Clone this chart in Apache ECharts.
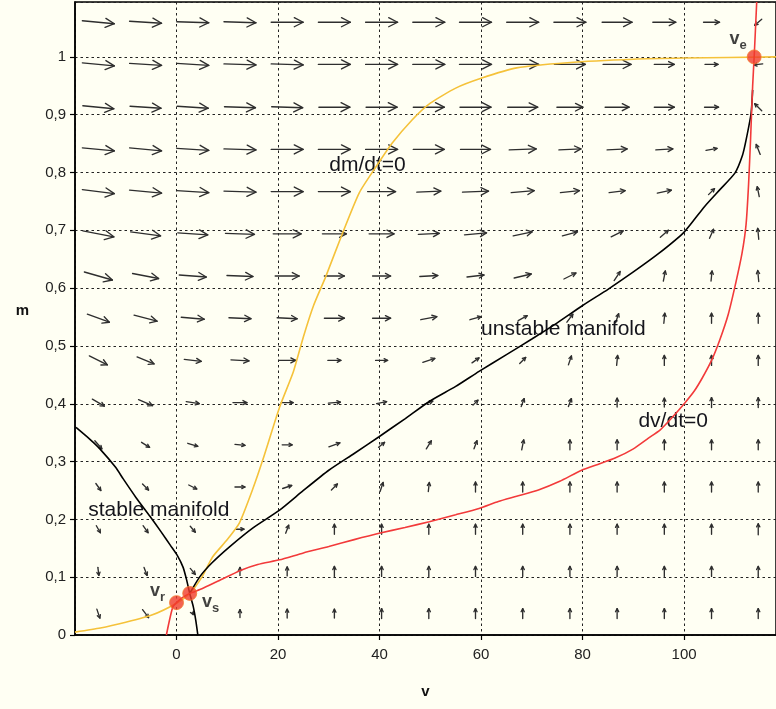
<!DOCTYPE html>
<html><head><meta charset="utf-8">
<script src="https://cdn.jsdelivr.net/npm/echarts@6/dist/echarts.min.js"></script>
<style>html,body{margin:0;padding:0;background:#FFFFF3}#c{width:776px;height:709px}</style>
</head><body><div id="c"></div>
<script>
// ---- data ----
const xTickValues = [0, 20, 40, 60, 80, 100];
const yTickLabels = ['0','0,1','0,2','0,3','0,4','0,5','0,6','0,7','0,8','0,9','1'];

// sample grid of the direction field
const vSamples = [-15.4, -6.1, 3.2, 12.5, 21.8, 31.1, 40.4, 49.7, 58.9, 68.2, 77.5, 86.8, 96.1, 105.4, 114.6];
const mSamples = [0.037, 0.110, 0.183, 0.256, 0.329, 0.402, 0.475, 0.548, 0.621, 0.694, 0.767, 0.840, 0.913, 0.987, 1.060];

// arrow components (rightward U, upward V), one row per mSample
const arrowU = [
  [3, 6, 1, 0, 0, 0, 0, 0, 0, 0, 0, 0, 0, 0, 0],
  [1, 3, 5, 0, 0, 0, 0, 0, 0, 0, 0, 0, 0, 0, 0],
  [4, 5, 5, 8, 3, 0, 0, 0, 0, 0, 0, 0, 0, 0, 0],
  [5, 6, 8, 10, 9, 6, 3, 1, 0, 0, 0, 0, 0, 0, 0],
  [7, 8, 10, 10, 10, 11, 6, 5, 3, 2, 0, 0, 0, 0, 0],
  [12, 14, 13, 14, 12, 12, 10, 8, 5, 3, 3, 0, 0, 0, 0],
  [18, 17, 17, 18, 17, 13, 12, 12, 7, 6, 3, 1, 0, 0, 0],
  [22, 23, 23, 22, 20, 20, 18, 16, 11, 9, 6, 3, 1, 0, 0],
  [28, 26, 27, 26, 24, 20, 18, 18, 17, 17, 12, 6, 2, 1, -1],
  [31, 30, 30, 29, 28, 24, 25, 21, 22, 19, 15, 12, 8, 4, -1],
  [32, 32, 32, 32, 32, 32, 28, 24, 26, 23, 19, 16, 14, 6, -2],
  [32, 32, 32, 32, 32, 32, 32, 31, 30, 27, 22, 20, 17, 11, -4],
  [31, 31, 31, 31, 31, 31, 31, 31, 31, 30, 26, 24, 20, 14, -7],
  [32, 32, 32, 32, 32, 32, 32, 32, 32, 32, 31, 28, 20, 13, -9],
  [32, 32, 32, 32, 32, 32, 32, 32, 32, 32, 32, 30, 23, 16, -7]
];
const arrowV = [
  [-9, -8, -2, 8, 9, 9, 10, 10, 10, 10, 10, 10, 10, 10, 10],
  [-8, -8, -6, 8, 9, 10, 10, 10, 10, 10, 10, 10, 10, 10, 10],
  [-7, -7, -6, 0, 8, 10, 10, 10, 10, 10, 10, 10, 10, 10, 11],
  [-7, -6, -4, 0, 3, 6, 9, 9, 10, 10, 10, 10, 10, 10, 10],
  [-8, -5, -3, -1, 0, 4, 5, 8, 8, 10, 10, 10, 10, 10, 10],
  [-7, -6, -2, 0, 0, 1, 2, 3, 5, 8, 8, 9, 9, 10, 10],
  [-9, -7, -2, -1, 0, 0, 0, 4, 5, 6, 9, 10, 10, 10, 10],
  [-8, -6, -2, -1, -1, 0, 0, 3, 3, 5, 8, 9, 10, 10, 10],
  [-8, -5, -2, -1, 0, 0, 0, 1, 2, 4, 6, 9, 10, 10, 11],
  [-6, -4, -2, -1, 0, 0, 0, 1, 2, 4, 4, 6, 7, 9, 11],
  [-4, -3, -2, -1, 0, 0, 0, 1, 1, 2, 2, 2, 3, 6, 10],
  [-3, -3, -2, -1, 0, 0, 0, 0, 0, 1, 1, 1, 1, 2, 10],
  [-3, -2, -2, -1, -1, 0, 0, 0, 0, 0, 0, 0, 0, 0, 7],
  [-3, -2, -2, -1, -1, 0, 0, 0, 0, 0, 0, 0, 0, 0, -1],
  [-3, -2, -1, -1, 0, 0, 0, 0, 0, 0, 0, 0, 0, 0, -6]
];

// dm/dt = 0 nullcline (yellow)
const mNullcline = [[-20,0.005],[-15,0.012],[-10,0.022],[-5,0.034],[0,0.055],[2.6,0.072],[5,0.1],[7.1,0.135],[10,0.165],[12.4,0.194],[15,0.252],[17,0.303],[20.3,0.394],[23,0.455],[25,0.516],[27,0.57],[29.4,0.62],[32.7,0.695],[36,0.765],[39.3,0.81],[42.5,0.851],[46.4,0.891],[50,0.92],[55,0.946],[60,0.963],[67,0.981],[77,0.99],[90,0.996],[100,0.998],[118.1,1.0]];
// dv/dt = 0 nullcline (red)
const vNullcline = [[-2.0,0],[-1.3,0.029],[-0.7,0.049],[0,0.056],[1.2,0.065],[2.6,0.072],[5,0.08],[7.9,0.092],[12.7,0.112],[16,0.122],[20.3,0.13],[25,0.142],[30,0.153],[35,0.165],[39.9,0.176],[45,0.186],[49.8,0.196],[55,0.208],[59.6,0.219],[63.4,0.231],[67,0.24],[71.3,0.251],[75.5,0.266],[79.8,0.285],[83,0.295],[86.4,0.306],[90,0.322],[92.9,0.34],[95.3,0.355],[97.5,0.375],[100.1,0.401],[102,0.422],[103.6,0.445],[105.4,0.475],[107,0.51],[108.7,0.555],[110.2,0.61],[111.4,0.66],[112.2,0.71],[112.7,0.78],[113.1,0.86],[113.5,0.95],[113.8,1.0],[114.3,1.095]];
// stable manifold of the saddle
const stableManifold = [[-19.8,0.359],[-17,0.338],[-15.1,0.322],[-12,0.29],[-10.5,0.27],[-8,0.238],[-5.2,0.205],[-3,0.178],[-1.2,0.155],[0.2,0.137],[1.3,0.117],[2.0,0.095],[2.6,0.072],[3.3,0.049],[3.8,0.025],[4.2,0]];
// unstable manifold of the saddle
const unstableManifold = [[2.6,0.072],[4.6,0.101],[7,0.125],[10.5,0.153],[15,0.185],[20.3,0.216],[25,0.25],[30,0.285],[35,0.314],[39.9,0.343],[45,0.374],[49.8,0.404],[55,0.43],[59.6,0.456],[65,0.485],[70,0.512],[75,0.54],[80,0.57],[85,0.598],[90,0.628],[95,0.66],[100,0.697],[104,0.741],[107,0.77],[110,0.799],[111.5,0.83],[112.2,0.856],[113.2,0.903],[113.5,0.943]];
// equilibria
const fixedPoints = [[0,0.056,'r'],[2.6,0.072,'s'],[113.8,1.0,'e']];
// curve annotations
const curveLabels = [[30.1,0.813,'dm/dt=0'],[60,0.529,'unstable manifold'],[91,0.369,'dv/dt=0'],[-17.4,0.216,'stable manifold']];

// ---- chart ----
const fieldData = [];
for (let j = 0; j < mSamples.length; j++)
  for (let i = 0; i < vSamples.length; i++)
    fieldData.push([vSamples[i], mSamples[j], arrowU[j][i], arrowV[j][i]]);

function renderArrow(params, api) {
  const c = api.coord([api.value(0), api.value(1)]);
  const u = api.value(2), w = api.value(3);
  const L = Math.hypot(u, w);
  if (L < 0.5) return null;
  const ux = u / L, uy = -w / L;
  const x0 = c[0] - u / 2, y0 = c[1] + w / 2, x1 = c[0] + u / 2, y1 = c[1] - w / 2;
  const h = Math.min(10, Math.max(3.5, 0.32 * L));
  const a = 27 * Math.PI / 180, ca = Math.cos(a), sa = Math.sin(a);
  const bx = -ux, by = -uy;
  const p1 = [x1 + h * (bx * ca - by * sa), y1 + h * (bx * sa + by * ca)];
  const p2 = [x1 + h * (bx * ca + by * sa), y1 + h * (-bx * sa + by * ca)];
  const st = { stroke: '#2e2e2e', lineWidth: 1.35, fill: null, lineCap: 'round', lineJoin: 'round' };
  return { type: 'group', children: [
    { type: 'line', shape: { x1: x0, y1: y0, x2: x1, y2: y1 }, style: st },
    { type: 'polyline', shape: { points: [p1, [x1, y1], p2] }, style: st }
  ]};
}

const FONT = '"Liberation Sans", Arial, Helvetica, sans-serif';

function renderLabel(params, api) {
  const c = api.coord([api.value(0), api.value(1)]);
  return { type: 'text', x: c[0], y: c[1],
    style: { text: curveLabels[params.dataIndex][2], fill: '#15151c', font: '21px ' + FONT, textAlign: 'left', textVerticalAlign: 'middle' } };
}

const chart = echarts.init(document.getElementById('c'), null, { renderer: 'canvas' });
chart.setOption({
  animation: false,
  backgroundColor: '#FFFFF3',
  textStyle: { fontFamily: FONT },
  grid: { left: 75, right: -2, top: 2, bottom: 74, show: true, borderColor: '#000', borderWidth: 1.5, backgroundColor: 'transparent' },
  xAxis: {
    type: 'value', min: -20, max: 118.1, interval: 20,
    name: 'v', nameLocation: 'middle', nameGap: 49,
    nameTextStyle: { fontSize: 15, fontWeight: 'bold', color: '#111', fontFamily: FONT },
    axisLine: { show: true, onZero: false, lineStyle: { color: '#000', width: 1.5 } },
    axisTick: { show: true, length: 5, lineStyle: { color: '#000', width: 1.2 } },
    axisLabel: { fontSize: 15, color: '#222', margin: 12, showMinLabel: false, showMaxLabel: false,
      formatter: v => xTickValues.indexOf(v) >= 0 ? String(v) : '' },
    splitLine: { show: true, lineStyle: { color: '#222', width: 1, type: [2.5, 3] } }
  },
  yAxis: {
    type: 'value', min: 0, max: 1.095, interval: 0.1,
    name: 'm', nameLocation: 'middle', nameGap: 46, nameRotate: 0,
    nameTextStyle: { fontSize: 15, fontWeight: 'bold', color: '#111', fontFamily: FONT, verticalAlign: 'bottom' },
    axisLine: { show: true, onZero: false, lineStyle: { color: '#000', width: 1.5 } },
    axisTick: { show: true, length: 5, lineStyle: { color: '#000', width: 1.2 } },
    axisLabel: { fontSize: 15, color: '#222', margin: 9, showMaxLabel: false,
      formatter: v => { const k = Math.round(v * 10); return (Math.abs(v * 10 - k) < 1e-6 && k <= 10) ? yTickLabels[k] : ''; } },
    splitLine: { show: true, lineStyle: { color: '#222', width: 1, type: [2.5, 3] } }
  },
  series: [
    { type: 'custom', name: 'field', data: fieldData, renderItem: renderArrow, encode: { x: 0, y: 1 }, silent: true, z: 2, clip: true },
    { type: 'custom', name: 'labels', data: curveLabels.map(d => [d[0], d[1]]), renderItem: renderLabel, encode: { x: 0, y: 1 }, silent: true, z: 3 },
    { type: 'line', name: 'dm/dt=0', data: mNullcline, showSymbol: false, smooth: 0.2, lineStyle: { color: '#F5C23A', width: 1.6 }, z: 4, silent: true },
    { type: 'line', name: 'stable', data: stableManifold, showSymbol: false, smooth: 0.2, lineStyle: { color: '#000', width: 1.6 }, z: 4, silent: true },
    { type: 'line', name: 'unstable', data: unstableManifold, showSymbol: false, smooth: 0.2, lineStyle: { color: '#000', width: 1.6 }, z: 4, silent: true },
    { type: 'line', name: 'dv/dt=0', data: vNullcline, showSymbol: false, smooth: 0.2, lineStyle: { color: '#F23A3A', width: 1.6 }, z: 5, silent: true },
    { type: 'scatter', name: 'equilibria', data: fixedPoints, symbolSize: 14, silent: true, z: 6,
      itemStyle: { color: '#F03C2A', borderColor: '#F47A30', borderWidth: 1 },
      label: { show: true, position: 'inside',
        formatter: p => '{a|v}{b|' + p.data[2] + '}',
        rich: {
          a: { fontSize: 18, fontWeight: 'bold', color: '#111', lineHeight: 22, verticalAlign: 'top', fontFamily: FONT },
          b: { fontSize: 13, fontWeight: 'bold', color: '#111', lineHeight: 14, verticalAlign: 'bottom', fontFamily: FONT }
        } },
      labelLayout: function (p) {
        const offs = { 0: [-19, -10], 1: [21, 11], 2: [-16, -16] };
        const o = offs[p.dataIndex];
        return { dx: o[0], dy: o[1] };
      }
    }
  ]
});
</script></body></html>
